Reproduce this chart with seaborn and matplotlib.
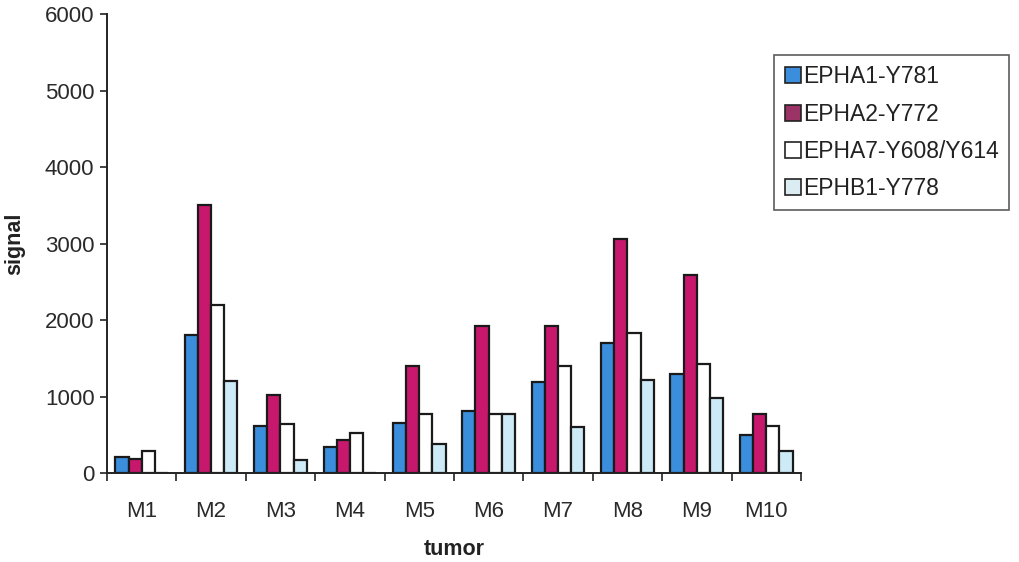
import matplotlib
matplotlib.use("Agg")
import matplotlib.pyplot as plt
import seaborn as sns
import pandas as pd
import numpy as np
from matplotlib.patches import Patch

tumors = ["M1", "M2", "M3", "M4", "M5", "M6", "M7", "M8", "M9", "M10"]
series_names = ["EPHA1-Y781", "EPHA2-Y772", "EPHA7-Y608/Y614", "EPHB1-Y778"]
epha1 = [210, 1800, 620, 340, 660, 810, 1190, 1700, 1300, 500]
epha2 = [190, 3500, 1020, 430, 1400, 1920, 1920, 3060, 2590, 770]
epha7 = [290, 2200, 640, 520, 780, 780, 1400, 1830, 1430, 620]
ephb1 = [0, 1200, 170, 0, 380, 780, 600, 1220, 980, 290]

bar_colors = ["#3a8edc", "#c8186e", "#ffffff", "#cdebf7"]
legend_colors = ["#3a8edc", "#9b3366", "#ffffff", "#dcecf3"]

df = pd.DataFrame({
    "tumor": tumors * 4,
    "series": np.repeat(series_names, len(tumors)),
    "signal": epha1 + epha2 + epha7 + ephb1,
})

sns.set_theme(style="white")
plt.rcParams["font.family"] = ["Liberation Sans", "DejaVu Sans"]

fig = plt.figure(figsize=(10.19, 5.62), dpi=100)
ax = fig.add_axes([0.105, 0.158, 0.681, 0.817])

sns.barplot(data=df, x="tumor", y="signal", hue="series", order=tumors,
            hue_order=series_names, palette=bar_colors, saturation=1,
            width=0.76, edgecolor="#1a1a1a", linewidth=1.6, ax=ax, legend=False)

ax.set_ylim(0, 6000)
ax.set_xlim(-0.5, 9.5)
ax.set_yticks(range(0, 6001, 1000))
ax.tick_params(axis="y", direction="out", length=5, width=1.2, color="#222222",
               labelsize=16, left=True, pad=4)
ax.set_xticks(np.arange(-0.5, 10, 1), minor=True)
ax.tick_params(axis="x", which="minor", direction="out", length=6, width=1.2,
               color="#222222", bottom=True)
ax.tick_params(axis="x", which="major", length=0, labelsize=16, pad=20)
for lab in ax.get_xticklabels() + ax.get_yticklabels():
    lab.set_color("#2a2a2a")

for side in ["top", "right"]:
    ax.spines[side].set_visible(False)
for side in ["left", "bottom"]:
    ax.spines[side].set_color("#222222")
    ax.spines[side].set_linewidth(1.4)

ax.set_xlabel("tumor", fontsize=15.5, fontweight="bold", color="#222222", labelpad=12)
ax.set_ylabel("signal", fontsize=15.5, fontweight="bold", color="#222222", labelpad=14)

handles = [Patch(facecolor=c, edgecolor="#222222", linewidth=1.2) for c in legend_colors]
leg = fig.legend(handles, series_names, loc="upper left",
                 bbox_to_anchor=(0.760, 0.902), frameon=True, fancybox=False,
                 fontsize=16.5, handlelength=0.7, handleheight=0.7,
                 handletextpad=0.1, labelspacing=0.62, borderpad=0.45,
                 borderaxespad=0)
leg.get_frame().set_edgecolor("#333333")
leg.get_frame().set_linewidth(1.2)
for t in leg.get_texts():
    t.set_color("#222222")

fig.savefig("out.png", dpi=100, facecolor="white")
